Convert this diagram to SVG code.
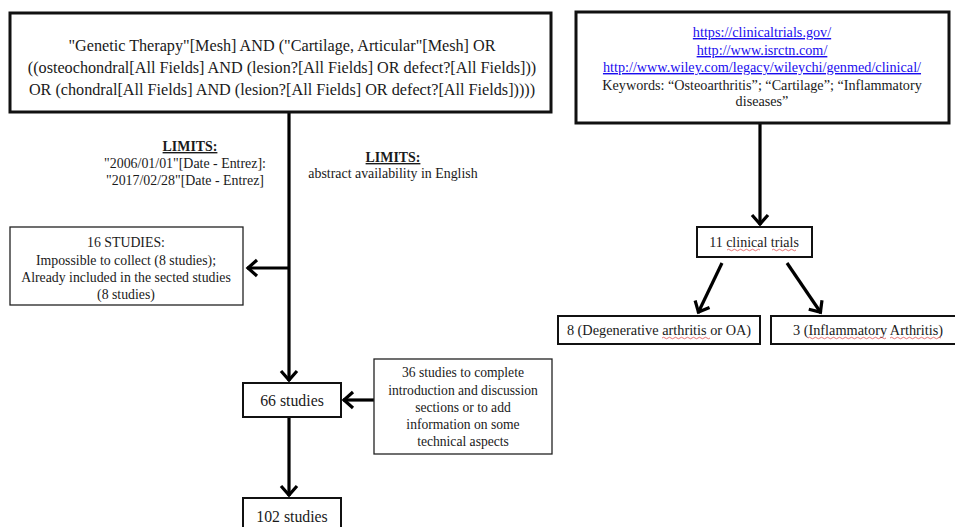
<svg xmlns="http://www.w3.org/2000/svg" width="955" height="527" viewBox="0 0 955 527" font-family="Liberation Serif, serif">
<style>
text{font-family:'Liberation Serif',serif;fill:#1a1a1a;text-anchor:middle}
.box3{fill:#fff;stroke:#111;stroke-width:3}
.box2{fill:#fff;stroke:#111;stroke-width:2}
.box1{fill:#fff;stroke:#222;stroke-width:1.3}
.link{fill:#1a0dee;text-decoration:underline}
.c{fill:none;stroke:#000;stroke-width:3.2}
.sq{fill:none;stroke:#e05050;stroke-width:0.8}
</style>
<defs>
<marker id="ah" markerUnits="userSpaceOnUse" markerWidth="24" markerHeight="24" viewBox="-12 -12 24 24" refX="0" refY="0" orient="auto">
<path d="M-10,-8 L-1,0 L-10,8" fill="none" stroke="#000" stroke-width="3.2"/>
</marker>
</defs>
<rect width="955" height="527" fill="#fff"/>

<g id="connectors">
<path class="c" d="M289,112 V381" marker-end="url(#ah)"/>
<path class="c" d="M289,268 H247" marker-end="url(#ah)"/>
<path class="c" d="M374,400 H343" marker-end="url(#ah)"/>
<path class="c" d="M289,417 V496" marker-end="url(#ah)"/>
<path class="c" d="M760,123 V225" marker-end="url(#ah)"/>
<path class="c" d="M722,263 L698,313" marker-end="url(#ah)"/>
<path class="c" d="M787,263 L821,313" marker-end="url(#ah)"/>
</g>

<g id="query">
<rect class="box3" x="10" y="13" width="541" height="99"/>
<text font-size="16.2" x="282" y="51">"Genetic Therapy"[Mesh] AND ("Cartilage, Articular"[Mesh] OR</text>
<text font-size="16.2" x="282" y="73">((osteochondral[All Fields] AND (lesion?[All Fields] OR defect?[All Fields]))</text>
<text font-size="16.2" x="282" y="95">OR (chondral[All Fields] AND (lesion?[All Fields] OR defect?[All Fields]))))</text>
</g>

<g id="sources">
<rect class="box3" x="576" y="12" width="373" height="111"/>
<text class="link" font-size="14.2" x="762" y="37">https://clinicaltrials.gov/</text>
<text class="link" font-size="14.2" x="762" y="55">http://www.isrctn.com/</text>
<text class="link" font-size="14.2" x="762" y="72">http://www.wiley.com/legacy/wileychi/genmed/clinical/</text>
<text font-size="14.2" x="762" y="90">Keywords: “Osteoarthritis”; “Cartilage”; “Inflammatory</text>
<text font-size="14.2" x="762" y="106">diseases”</text>
</g>

<g id="limits-date">
<text font-size="13.9" x="190" y="151" font-weight="bold" text-decoration="underline">LIMITS:</text>
<text font-size="13.9" x="185" y="168">"2006/01/01"[Date - Entrez]:</text>
<text font-size="13.9" x="185" y="185">"2017/02/28"[Date - Entrez]</text>
</g>

<g id="limits-lang">
<text font-size="13.9" x="393" y="162" font-weight="bold" text-decoration="underline">LIMITS:</text>
<text font-size="13.9" x="393" y="178">abstract availability in English</text>
</g>

<g id="excluded">
<rect class="box1" x="10" y="227" width="233" height="78"/>
<text font-size="13.8" x="126" y="247">16 STUDIES:</text>
<text font-size="13.8" x="126" y="265">Impossible to collect (8 studies);</text>
<text font-size="13.8" x="126" y="282">Already included in the sected studies</text>
<text font-size="13.8" x="126" y="299">(8 studies)</text>
</g>

<g id="studies66">
<rect class="box2" x="243" y="383" width="98" height="34"/>
<text font-size="15.8" x="292" y="406">66 studies</text>
</g>

<g id="extra36">
<rect class="box1" x="374" y="359" width="178" height="95"/>
<text font-size="13.6" x="463" y="377">36 studies to complete</text>
<text font-size="13.6" x="463" y="395">introduction and discussion</text>
<text font-size="13.6" x="463" y="412">sections or to add</text>
<text font-size="13.6" x="463" y="429">information on some</text>
<text font-size="13.6" x="463" y="446">technical aspects</text>
</g>

<g id="studies102">
<rect class="box2" x="243" y="498" width="98" height="40"/>
<text font-size="15.8" x="292" y="522">102 studies</text>
</g>

<g id="trials11">
<rect class="box2" x="697" y="227" width="115" height="30"/>
<text font-size="14" x="754" y="247">11 clinical trials</text>
<path class="sq" d="M727,250 q1.5,-1.5 3,0 t3,0 t3,0 t3,0 t3,0 t3,0 t3,0 t3,0 t3,0 t3,0 t3,0 M772,250 q1.5,-1.5 3,0 t3,0 t3,0 t3,0 t3,0 t3,0 t3,0 t3,0"/>
</g>

<g id="oa8">
<rect class="box2" x="558" y="316" width="202" height="28"/>
<text font-size="14.3" x="659" y="335">8 (Degenerative arthritis or OA)</text>
<path class="sq" d="M662,338 q1.5,-1.5 3,0 t3,0 t3,0 t3,0 t3,0 t3,0 t3,0 t3,0 t3,0 t3,0 t3,0 t3,0 t3,0 t3,0 t3,0 t3,0"/>
</g>

<g id="ia3">
<rect class="box2" x="771" y="316" width="186" height="28"/>
<text font-size="14.3" x="868" y="335">3 (Inflammatory Arthritis)</text>
<path class="sq" d="M808,338 q1.5,-1.5 3,0 t3,0 t3,0 t3,0 t3,0 t3,0 t3,0 t3,0 t3,0 t3,0 t3,0 t3,0 t3,0 t3,0 t3,0 t3,0 t3,0 t3,0 t3,0 t3,0 t3,0 t3,0 t3,0 t3,0 t3,0 t3,0 M890,338 q1.5,-1.5 3,0 t3,0 t3,0 t3,0 t3,0 t3,0 t3,0 t3,0 t3,0 t3,0 t3,0 t3,0 t3,0 t3,0 t3,0 t3,0 t3,0"/>
</g>
</svg>
